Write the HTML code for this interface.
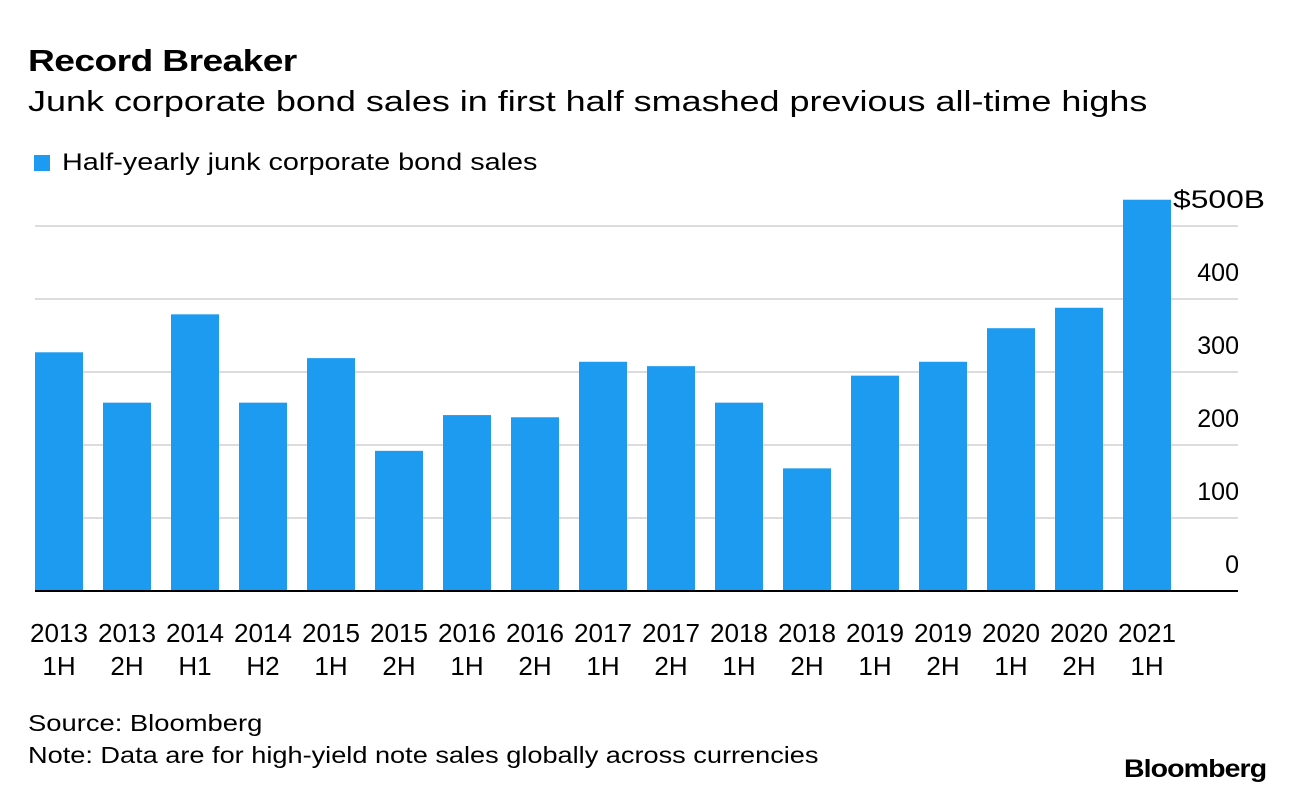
<!DOCTYPE html>
<html><head><meta charset="utf-8"><style>
body{margin:0;background:#fff;font-family:"Liberation Sans",sans-serif;}
#wrap{position:relative;width:1292px;height:794px;overflow:hidden;}
.t{position:absolute;white-space:nowrap;color:#000;transform-origin:0 0;}
</style></head><body>
<div id="wrap">
<div class="t" style="left:28px;top:43px;font-size:31px;font-weight:bold;letter-spacing:-0.5px;transform:scaleX(1.2)">Record Breaker</div>
<div class="t" style="left:28px;top:86px;font-size:29px;transform:scaleX(1.24)">Junk corporate bond sales in first half smashed previous all-time highs</div>
<div style="position:absolute;left:34px;top:155px;width:16px;height:16px;background:#1d9bf0"></div>
<div class="t" style="left:62px;top:149px;font-size:24px;transform:scaleX(1.2)">Half-yearly junk corporate bond sales</div>
<svg id="chart" width="1292" height="794" style="position:absolute;left:0;top:0"></svg>
<div class="t" style="left:28px;top:710px;font-size:23px;transform:scaleX(1.19)">Source: Bloomberg</div>
<div class="t" style="left:28px;top:742px;font-size:23px;transform:scaleX(1.18)">Note: Data are for high-yield note sales globally across currencies</div>
<div class="t" style="left:1124px;top:755px;font-size:25px;font-weight:bold;letter-spacing:-0.8px;transform:scaleX(1.14)">Bloomberg</div>
</div>
<script>
const years=["2013","2013","2014","2014","2015","2015","2016","2016","2017","2017","2018","2018","2019","2019","2020","2020","2021"];
const halves=["1H","2H","H1","H2","1H","2H","1H","2H","1H","2H","1H","2H","1H","2H","1H","2H","1H"];
const values=[327,258,379,258,319,192,241,238,314,308,258,168,295,314,360,388,536];
const ticks=[0,100,200,300,400,500];
const tickLabels=["0","100","200","300","400","$500B"];
const NS="http://www.w3.org/2000/svg";
const svg=document.getElementById('chart');
const y0=591,pxPer=0.73,x0=35,pitch=68,bw=48;
function y(v){return y0-v*pxPer;}
function xc(i){return x0+i*pitch+bw/2;}
function mk(tag,attrs){const e=document.createElementNS(NS,tag);for(const k in attrs)e.setAttribute(k,attrs[k]);svg.appendChild(e);return e;}
ticks.forEach((t,i)=>{
 if(t>0){const l=mk('line',{x1:35,x2:1238,y1:y(t),y2:y(t),stroke:'#dcdcdc','stroke-width':2});
 
 }
 const last=i===ticks.length-1;
 const tx=mk('text',{x:last?1173:1239,y:y(t)-18,'text-anchor':last?'start':'end','font-size':25,'font-family':'Liberation Sans, sans-serif',fill:'#000','textLength':last?92:null,'lengthAdjust':'spacingAndGlyphs'});
 if(!last)tx.removeAttribute('textLength');
 tx.textContent=tickLabels[i];
 
 
});
values.forEach((v,i)=>{
 const r=mk('rect',{x:xc(i)-bw/2,y:y(v),width:bw,height:v*pxPer,fill:'#1d9bf0'});
 
 
 const t1=mk('text',{x:xc(i),y:642,'text-anchor':'middle','font-size':26,'font-family':'Liberation Sans, sans-serif','textLength':58,'lengthAdjust':'spacingAndGlyphs'});
 t1.textContent=years[i];
 
 
 const t2=mk('text',{x:xc(i),y:675,'text-anchor':'middle','font-size':26,'font-family':'Liberation Sans, sans-serif'});
 t2.textContent=halves[i];
 
 
});
const ax=mk('line',{x1:35,x2:1238,y1:y0,y2:y0,stroke:'#000','stroke-width':2});


</script>
</body></html>
